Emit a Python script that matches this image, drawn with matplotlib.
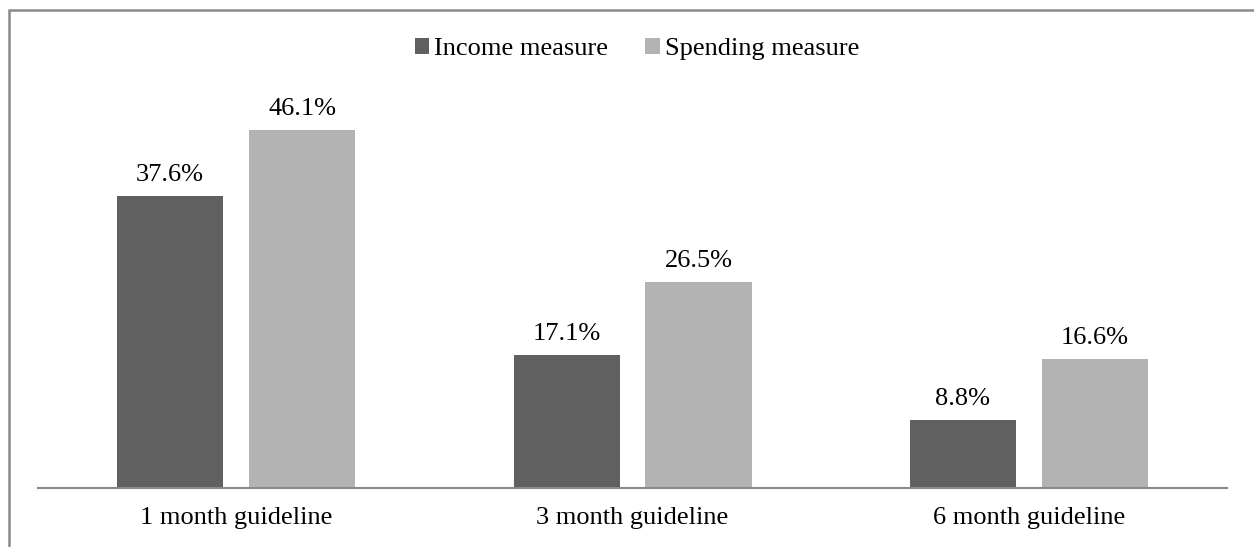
import numpy as np
import matplotlib
matplotlib.use('Agg')
import matplotlib.pyplot as plt
from matplotlib.patches import Rectangle

plt.rcParams['font.family'] = ['Liberation Serif', 'DejaVu Serif']

categories = ['1 month guideline', '3 month guideline', '6 month guideline']
income = [37.6, 17.1, 8.8]
spending = [46.1, 26.5, 16.6]
series_names = ['Income measure', 'Spending measure']

fig = plt.figure(figsize=(12.54, 5.47), dpi=100)
ax = fig.add_axes([0.0303, 0.1079, 0.9482, 0.7103])

x = np.arange(len(categories))
w = 0.2675
off = 0.1665
b1 = ax.bar(x - off, income, w, color='#606060', label=series_names[0])
b2 = ax.bar(x + off, spending, w, color='#b3b3b3', label=series_names[1])

for bars in (b1, b2):
    ax.bar_label(bars, labels=['%.1f%%' % v for v in bars.datavalues],
                 padding=7, fontsize=19)

ax.set_xlim(-0.5, 2.5)
ax.set_ylim(0, 50)
ax.set_xticks(x)
ax.set_xticklabels(categories, fontsize=19)
ax.tick_params(axis='x', length=0, pad=14)
ax.set_yticks([])
for s in ['top', 'right', 'left']:
    ax.spines[s].set_visible(False)
ax.spines['bottom'].set_color('#898989')
ax.spines['bottom'].set_linewidth(1.5)

fig.legend(loc='center', bbox_to_anchor=(637 / 1254, 1 - 49 / 547), ncol=2,
           frameon=False, fontsize=19, handlelength=0.55, handleheight=0.55,
           handletextpad=0.2, columnspacing=1.4)

# outer chart border (cut off at right and bottom)
fig.patches.append(Rectangle((8.5 / 1254, -0.1), 1.2, 1 - 9.5 / 547 + 0.1,
                             transform=fig.transFigure, fill=False,
                             edgecolor='#8a8a8a', linewidth=1.8))

fig.savefig('out.png', dpi=100)
